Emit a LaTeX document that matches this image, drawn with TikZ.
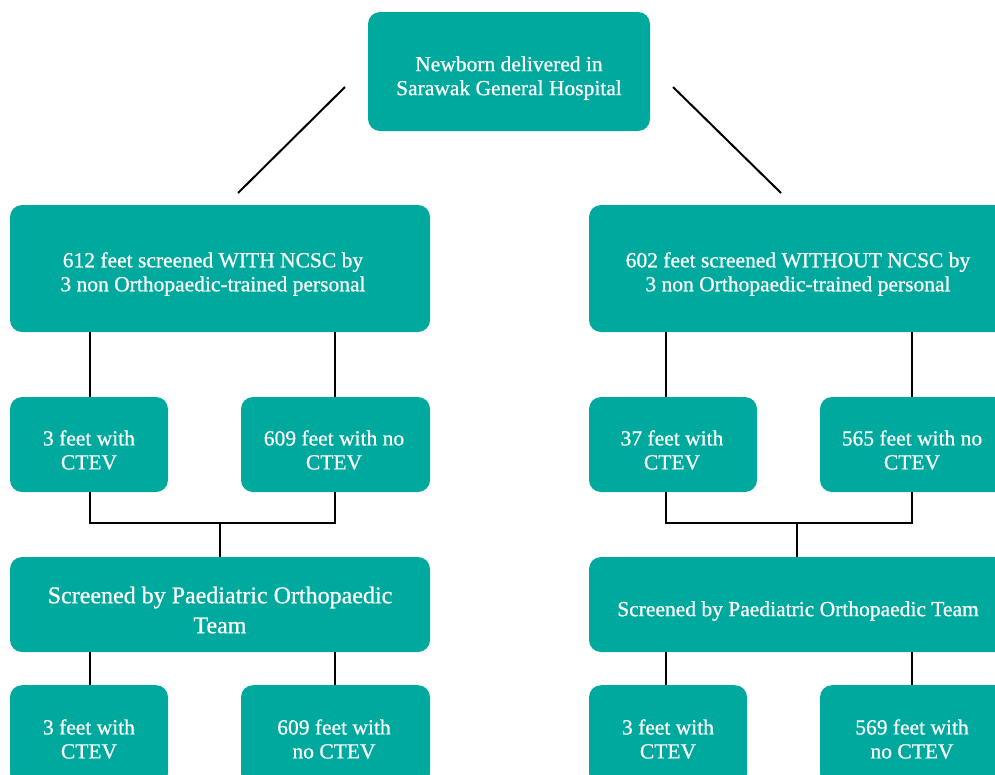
\documentclass[tikz,border=0pt]{standalone}
\usepackage{fontspec}
\setmainfont{Liberation Serif}[FakeBold=0.7]
\definecolor{teal1}{HTML}{00A99D}
\begin{document}
\begin{tikzpicture}[x=1pt,y=-1pt,
  box/.style={fill=teal1,draw=none,rounded corners=12pt,inner sep=0pt},
  txt/.style={text=white,align=center,font=\fontsize{21.5}{24}\selectfont,inner sep=0pt},
  bigtxt/.style={text=white,align=center,font=\fontsize{24}{30}\selectfont,inner sep=0pt},
  conn/.style={line width=2pt,black}]
\useasboundingbox (0,0) rectangle (995,774);
\clip (0,0) rectangle (995,774);
% boxes
\node[box,minimum width=282,minimum height=119] (top) at (509,71.5) {};
\node[box,minimum width=420,minimum height=127] (L1) at (220,268.5) {};
\node[box,minimum width=420,minimum height=127] (R1) at (799,268.5) {};
\node[box,minimum width=158,minimum height=95] (L2a) at (89,444.5) {};
\node[box,minimum width=189,minimum height=95] (L2b) at (335.5,444.5) {};
\node[box,minimum width=168,minimum height=95] (R2a) at (673,444.5) {};
\node[box,minimum width=189,minimum height=95] (R2b) at (914.5,444.5) {};
\node[box,minimum width=420,minimum height=95] (L3) at (220,604.5) {};
\node[box,minimum width=420,minimum height=95] (R3) at (799,604.5) {};
\node[box,minimum width=158,minimum height=100,anchor=north] (L4a) at (89,685) {};
\node[box,minimum width=189,minimum height=100,anchor=north] (L4b) at (335.5,685) {};
\node[box,minimum width=158,minimum height=100,anchor=north] (R4a) at (668,685) {};
\node[box,minimum width=189,minimum height=100,anchor=north] (R4b) at (914.5,685) {};
% texts
\node[txt] (ttop) at (509,78) {Newborn delivered in\\Sarawak General Hospital};
\node[txt] (tL1) at (213,274) {612 feet screened WITH NCSC by\\3 non Orthopaedic-trained personal};
\node[txt] (tR1) at (798,274) {602 feet screened WITHOUT NCSC by\\3 non Orthopaedic-trained personal};
\node[txt] (tL2a) at (89,450) {3 feet with\\CTEV};
\node[txt] (tL2b) at (334,450) {609 feet with no\\CTEV};
\node[txt] (tR2a) at (672,450) {37 feet with\\CTEV};
\node[txt] (tR2b) at (912,450) {565 feet with no\\CTEV};
\node[bigtxt] (tL3) at (220,610) {Screened by Paediatric Orthopaedic\\Team};
\node[txt] (tR3) at (798,611) {Screened by Paediatric Orthopaedic Team};
\node[txt] (tL4a) at (89,739) {3 feet with\\CTEV};
\node[txt] (tL4b) at (334,739) {609 feet with\\no CTEV};
\node[txt] (tR4a) at (668,739) {3 feet with\\CTEV};
\node[txt] (tR4b) at (912,739) {569 feet with\\no CTEV};
% diagonals
\coordinate (dl1) at (345,87); \coordinate (dl2) at (238,193);
\coordinate (dr1) at (673,87); \coordinate (dr2) at (781,193);
\draw[conn] (dl1) -- (dl2);
\draw[conn] (dr1) -- (dr2);
% verticals L1 -> row2
\draw[conn] (L1.south -| 90,0) -- (L2a.north -| 90,0);
\draw[conn] (L1.south -| 335,0) -- (L2b.north -| 335,0);
\draw[conn] (R1.south -| 666,0) -- (R2a.north -| 666,0);
\draw[conn] (R1.south -| 912,0) -- (R2b.north -| 912,0);
% joins
\coordinate (jl) at (220,523);
\coordinate (jr) at (797,523);
\draw[conn] (L2a.south -| 90,0) |- (jl) -| (L2b.south -| 335,0);
\draw[conn] (jl) -- (L3.north);
\draw[conn] (R2a.south -| 666,0) |- (jr) -| (R2b.south -| 912,0);
\draw[conn] (jr) -- (R3.north -| jr);
% row3 -> row4
\draw[conn] (L3.south -| 90,0) -- (L4a.north -| 90,0);
\draw[conn] (L3.south -| 335,0) -- (L4b.north -| 335,0);
\draw[conn] (R3.south -| 666,0) -- (R4a.north -| 666,0);
\draw[conn] (R3.south -| 912,0) -- (R4b.north -| 912,0);
\end{tikzpicture}
\end{document}
